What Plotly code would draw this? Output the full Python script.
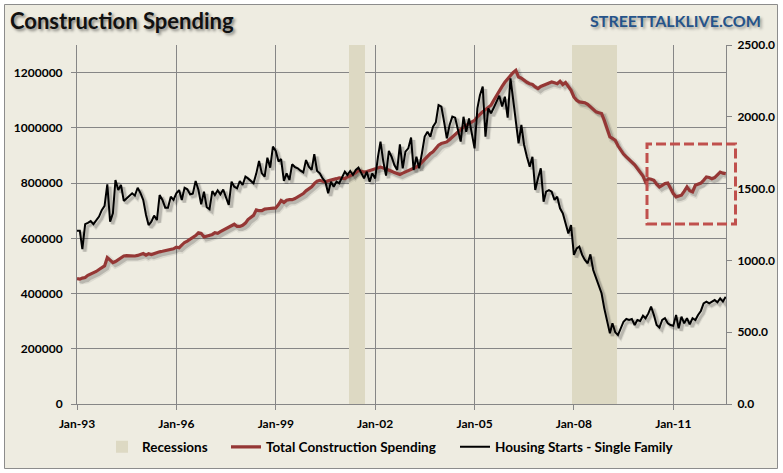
import plotly.graph_objects as go
import pandas as pd

# ---------------- data ----------------
start_month = "1993-01-01"
n_months = 236
dates = pd.date_range(start_month, periods=n_months, freq="MS")

# Total construction spending (thousands of $, SAAR) -> left axis
spending_k = [
    454, 452, 456, 458, 466, 470, 475, 480, 487, 493,
    500, 530, 520, 512, 516, 524, 530, 536, 537, 536,
    537, 536, 538, 540, 545, 539, 544, 541, 545, 547,
    551, 553, 555, 557, 558, 562, 568, 566, 575, 585,
    590, 596, 603, 610, 620, 618, 605, 607, 610, 614,
    620, 618, 624, 630, 636, 640, 648, 651, 643, 643,
    647, 655, 668, 675, 683, 703, 700, 700, 706, 707,
    708, 708, 710, 722, 737, 730, 738, 740, 740, 744,
    750, 756, 762, 772, 780, 786, 798, 807, 810, 807,
    804, 808, 810, 812, 816, 819, 818, 816, 822, 826,
    832, 838, 846, 843, 840, 842, 845, 848, 850, 855,
    858, 855, 852, 848, 843, 838, 833, 831, 836, 840,
    845, 850, 852, 858, 865, 876, 889, 900, 907, 913,
    925, 937, 943, 946, 949, 958, 967, 976, 985, 997,
    1003, 1009, 1016, 1022, 1027, 1040, 1050, 1058, 1066, 1075,
    1082, 1100, 1118, 1136, 1150, 1165, 1178, 1190, 1200, 1208,
    1184, 1180, 1172, 1165, 1160, 1157, 1148, 1142, 1150, 1154,
    1158, 1160, 1166, 1163, 1160, 1169, 1157, 1164, 1150, 1136,
    1112, 1100, 1094, 1092, 1091, 1085, 1076, 1066, 1058, 1055,
    1052, 1027, 995, 967, 962, 955, 935, 919, 905, 895,
    886, 877, 866, 853, 840, 825, 804, 816, 814, 810,
    796, 786, 792, 798, 800, 780, 762, 750, 752, 756,
    770, 786, 772, 768, 792, 796, 800, 810, 822, 820,
    816, 820, 832, 840, 836, 834,
]
spending = [v * 1000 for v in spending_k]

# Housing starts - single family (thousands) -> right axis
starts = [
    1207, 1207, 1079, 1253, 1262, 1274, 1253, 1280, 1305, 1350,
    1380, 1530, 1270, 1328, 1560, 1490, 1525, 1414, 1430, 1444,
    1467, 1451, 1506, 1470, 1421, 1316, 1246, 1270, 1312, 1281,
    1455, 1421, 1367, 1367, 1444, 1421, 1467, 1490, 1421, 1506,
    1495, 1460, 1465, 1553, 1490, 1390, 1479, 1370, 1356, 1483,
    1455, 1488, 1460, 1493, 1432, 1386, 1548, 1513, 1502, 1553,
    1525, 1583, 1571, 1553, 1537, 1606, 1692, 1606, 1583, 1715,
    1646, 1792, 1762, 1688, 1706, 1553, 1606, 1560, 1669, 1650,
    1641, 1625, 1613, 1699, 1653, 1630, 1739, 1623, 1606, 1571,
    1548, 1467, 1548, 1513, 1548, 1537, 1583, 1618, 1595, 1623,
    1595, 1630, 1646, 1613, 1571, 1618, 1548, 1606, 1571, 1720,
    1827, 1688, 1590, 1762, 1722, 1664, 1630, 1808, 1641, 1757,
    1780, 1855, 1630, 1722, 1641, 1746, 1862, 1896, 1862, 1931,
    1961, 2082, 2071, 1961, 1850, 1943, 2001, 1994, 1908, 1827,
    2000, 1896, 1989, 1896, 1780, 2059, 2150, 2210, 1862, 2059,
    2024, 2064, 2105, 2147, 2071, 2140, 1994, 2268, 2129, 1966,
    1815, 1943, 1804, 1722, 1653, 1722, 1490, 1571, 1641, 1409,
    1479, 1490, 1479, 1421, 1444, 1363, 1328, 1258, 1188, 1246,
    1038, 1084, 1096, 1038, 1003, 980, 1042, 933, 875, 817,
    771, 666, 585, 492, 562, 499, 480, 527, 573, 592,
    585, 592, 550, 585, 578, 615, 597, 631, 678, 620,
    550, 532, 585, 597, 562, 550, 545, 620, 527, 608,
    562, 597, 555, 597, 585, 620, 648, 701, 713, 701,
    713, 724, 708, 736, 713, 747,
]

recession_periods = [("2001-04-01", "2001-09-01"), ("2008-01-01", "2009-04-01")]
x_tick_vals = ["1993-01-01", "1996-01-01", "1999-01-01", "2002-01-01",
               "2005-01-01", "2008-01-01", "2011-01-01"]
left_max = 1300000
right_max = 2500
x_range = ["1993-01-01", "2012-08-04"]

# ---------------- styling / geometry ----------------
W, H = 783, 473
L, R, T, B = 77, 57, 45, 69
PW, PH = W - L - R, H - T - B


def px_x(px):
    return (px - L) / PW


def px_y(py):
    return (H - B - py) / PH


BG = "#EEECE1"
GRID = "#868686"
RED = "#953735"
REC = "#DDD9C3"
FONT = "Lato"

rec_dates = []
for s, e in recession_periods:
    rec_dates += list(pd.date_range(s, e, freq="MS"))

# shadow offsets (pixels)
shift = 2.5
x0, x1 = pd.Timestamp(x_range[0]), pd.Timestamp(x_range[1])
dt = (x1 - x0) * (shift / PW)
sx_range = [x0 - dt, x1 - dt]
dyl = left_max * shift / PH
dyr = right_max * shift / PH

fig = go.Figure()

fig.add_trace(go.Bar(
    x=rec_dates, y=[left_max] * len(rec_dates), width=31 * 24 * 3600 * 1000,
    marker=dict(color=REC, line=dict(width=0)), name="Recessions",
    xaxis="x", yaxis="y", legend="legend",
))
# soft shadows
for w, a in [(7, 0.07), (4, 0.16)]:
    fig.add_trace(go.Scatter(x=dates, y=spending, mode="lines",
                             line=dict(color=f"rgba(0,0,0,{a})", width=w),
                             xaxis="x2", yaxis="y3", showlegend=False, hoverinfo="skip"))
for w, a in [(5, 0.07), (3, 0.16)]:
    fig.add_trace(go.Scatter(x=dates, y=starts, mode="lines",
                             line=dict(color=f"rgba(0,0,0,{a})", width=w),
                             xaxis="x2", yaxis="y4", showlegend=False, hoverinfo="skip"))

fig.add_trace(go.Scatter(x=dates, y=spending, mode="lines", name="Total Construction Spending",
                         line=dict(color=RED, width=3.2), xaxis="x3", yaxis="y",
                         legend="legend2"))
fig.add_trace(go.Scatter(x=dates, y=starts, mode="lines", name="Housing Starts - Single Family",
                         line=dict(color="#000000", width=2), xaxis="x3", yaxis="y2",
                         legend="legend3"))

tickfont = dict(family=FONT, size=12, color="#000000", weight="bold")
legfont = dict(family=FONT, size=13.5, color="#000000", weight="bold")


def leg(px):
    return dict(orientation="h", x=px_x(px), xanchor="left", y=px_y(447),
                yanchor="middle", bgcolor="rgba(0,0,0,0)", font=legfont)


fig.update_layout(
    width=W, height=H,
    margin=dict(l=L, r=R, t=T, b=B, pad=0, autoexpand=False),
    paper_bgcolor="#FFFFFF",
    plot_bgcolor=BG,
    bargap=0,
    showlegend=True,
    title=dict(text="Construction Spending", x=10 / W, xanchor="left", xref="container",
               y=1 - 21 / H, yanchor="middle", yref="container",
               font=dict(family=FONT, size=22, color="#111111", weight="bold",
                         shadow="2px 2px 3px rgba(0,0,0,0.45)")),
    xaxis=dict(type="date", range=x_range, tickvals=x_tick_vals, tickformat="%b-%y",
               showgrid=True, gridcolor=GRID, gridwidth=1, automargin=False,
               ticks="outside", ticklen=5, tickcolor=GRID, ticklabelstandoff=4,
               showline=True, linecolor=GRID, linewidth=1, tickfont=tickfont,
               zeroline=False),
    xaxis2=dict(type="date", range=sx_range, overlaying="x", visible=False, automargin=False),
    xaxis3=dict(type="date", range=x_range, overlaying="x", visible=False, automargin=False),
    yaxis=dict(range=[0, left_max], dtick=200000, tickformat="d", automargin=False,
               showgrid=True, gridcolor=GRID, gridwidth=1, zeroline=False,
               ticks="outside", ticklen=5, tickcolor=GRID, ticklabelstandoff=6,
               showline=True, linecolor=GRID, tickfont=tickfont),
    yaxis2=dict(range=[0, right_max], dtick=500, tickformat=".1f", overlaying="y",
                side="right", showgrid=False, zeroline=False, automargin=False,
                ticks="outside", ticklen=5, tickcolor=GRID, ticklabelstandoff=3,
                showline=True, linecolor=GRID, tickfont=tickfont),
    yaxis3=dict(range=[dyl, left_max + dyl], overlaying="y", visible=False, automargin=False),
    yaxis4=dict(range=[dyr, right_max + dyr], overlaying="y", visible=False, automargin=False),
    legend=leg(102),
    legend2=leg(226),
    legend3=leg(455),
    shapes=[
        dict(type="rect", xref="paper", yref="paper", layer="below",
             x0=px_x(4.5), x1=px_x(777.5), y0=px_y(468.5), y1=px_y(4.5),
             fillcolor=BG, line=dict(color="#8C8C8C", width=1)),
        dict(type="rect", xref="paper", yref="paper", layer="above",
             x0=px_x(647), x1=px_x(735.5), y0=px_y(224), y1=px_y(144),
             fillcolor="rgba(0,0,0,0)",
             line=dict(color="#C0504D", width=3, dash="10px,4px")),
    ],
    annotations=[
        dict(text="STREETTALKLIVE.COM", xref="paper", yref="paper",
             x=px_x(763), xanchor="right", y=px_y(21), yanchor="middle", showarrow=False,
             font=dict(family=FONT, size=16, color="#25538A", weight="bold",
                       shadow="2px 2px 3px rgba(0,0,0,0.35)")),
    ],
)

fig.write_html("out.html")
